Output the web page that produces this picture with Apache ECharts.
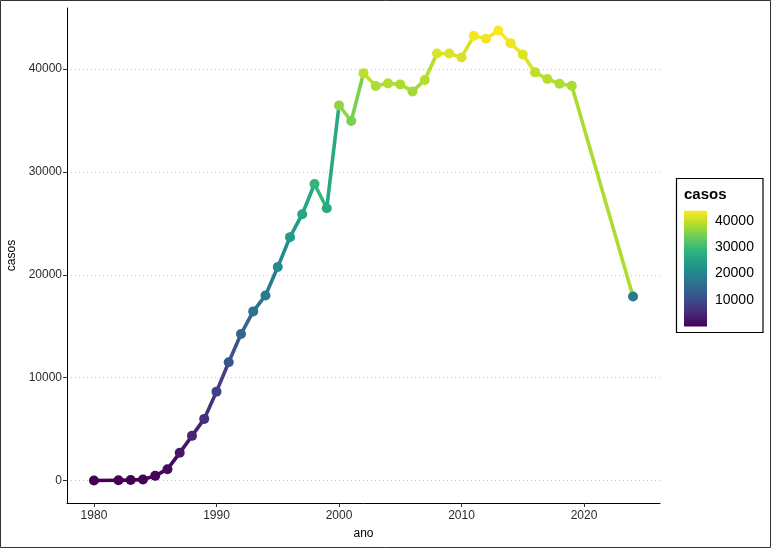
<!DOCTYPE html>
<html>
<head>
<meta charset="utf-8">
<script src="https://cdn.jsdelivr.net/npm/echarts@6/dist/echarts.min.js"></script>
<style>
html,body{margin:0;padding:0;background:#fff;}
#chart{width:771px;height:548px;}
</style>
</head>
<body>
<div id="chart"></div>
<script>
// ---- data ----
var anos = [1980, 1982, 1983, 1984, 1985, 1986, 1987, 1988, 1989, 1990,
            1991, 1992, 1993, 1994, 1995, 1996, 1997, 1998, 1999, 2000,
            2001, 2002, 2003, 2004, 2005, 2006, 2007, 2008, 2009, 2010,
            2011, 2012, 2013, 2014, 2015, 2016, 2017, 2018, 2019, 2024];
var casos = [0, 30, 40, 100, 450, 1100, 2690, 4340, 5990, 8640,
             11500, 14240, 16440, 17990, 20750, 23660, 25890, 28830, 26470, 36470,
             34950, 39600, 38350, 38610, 38510, 37830, 38930, 41520, 41520, 41130,
             43230, 42940, 43750, 42520, 41420, 39680, 39030, 38570, 38380, 17890];
var xTicks = [1980, 1990, 2000, 2010, 2020];
var yTicks = [0, 10000, 20000, 30000, 40000];
var legendTicks = [10000, 20000, 30000, 40000];
var viridis = ['#440154', '#482878', '#3E4A89', '#31688E', '#26828E',
               '#1F9E89', '#35B779', '#6DCD59', '#B4DE2C', '#FDE725'];

// ---- derived ----
var minV = Math.min.apply(null, casos);
var maxV = Math.max.apply(null, casos);
var xSpan = anos[anos.length - 1] - anos[0];
var ySpan = maxV - minV;
var points = anos.map(function (a, i) { return [a, casos[i]]; });
var segments = [];
for (var i = 0; i < anos.length - 1; i++) {
  segments.push([anos[i], casos[i], anos[i + 1], casos[i + 1]]);
}
var gradStops = viridis.map(function (c, i) { return { offset: i / (viridis.length - 1), color: c }; });
function plain(v) { return String(Math.round(v)); }

var FONT = 'Liberation Sans';
var chart = echarts.init(document.getElementById('chart'), null, { renderer: 'canvas' });
chart.setOption({
  animation: false,
  backgroundColor: '#fff',
  grid: [
    { left: 67, right: 111, top: 8, bottom: 45, containLabel: false, outerBoundsMode: 'none' },
    { left: 684, width: 23, top: 210.8, height: 115.6, containLabel: false, outerBoundsMode: 'none' }
  ],
  xAxis: [{
    gridIndex: 0,
    type: 'value',
    min: anos[0] - 0.05 * xSpan,
    max: anos[anos.length - 1] + 0.05 * xSpan,
    name: 'ano',
    nameLocation: 'middle',
    nameGap: 25,
    nameTextStyle: { fontFamily: FONT, fontSize: 12, color: '#000' },
    axisLine: { show: true, onZero: false, lineStyle: { color: '#000', width: 1 } },
    axisTick: { show: true, length: 4, lineStyle: { color: '#333' }, customValues: xTicks },
    axisLabel: { fontFamily: FONT, fontSize: 12, color: '#2b2b2b', margin: 7, customValues: xTicks, formatter: plain },
    splitLine: { show: false }
  }, {
    gridIndex: 1, type: 'category', data: [''], show: false
  }],
  yAxis: [{
    gridIndex: 0,
    type: 'value',
    min: minV - 0.05 * ySpan,
    max: maxV + 0.05 * ySpan,
    name: 'casos',
    nameLocation: 'middle',
    nameGap: 45,
    nameRotate: 90,
    nameTextStyle: { fontFamily: FONT, fontSize: 12, color: '#000' },
    axisLine: { show: true, onZero: false, lineStyle: { color: '#000', width: 1 } },
    axisTick: { show: true, length: 4, lineStyle: { color: '#333' }, customValues: yTicks },
    axisLabel: { fontFamily: FONT, fontSize: 12, color: '#2b2b2b', margin: 5, customValues: yTicks, formatter: plain },
    splitLine: { show: true, lineStyle: { color: '#c4c4c4', type: [1, 3], width: 1 } }
  }, {
    gridIndex: 1,
    type: 'value',
    min: minV, max: maxV,
    position: 'right',
    axisLine: { show: false },
    axisTick: { show: true, inside: true, length: 4, lineStyle: { color: 'rgba(255,255,255,0.8)' }, customValues: legendTicks },
    axisLabel: { fontFamily: FONT, fontSize: 14, color: '#000', margin: 8, customValues: legendTicks, formatter: plain },
    splitLine: { show: false }
  }, {
    gridIndex: 1,
    type: 'value',
    min: minV, max: maxV,
    position: 'left',
    axisLine: { show: false },
    axisTick: { show: true, inside: true, length: 4, lineStyle: { color: 'rgba(255,255,255,0.8)' }, customValues: legendTicks },
    axisLabel: { show: false },
    splitLine: { show: false }
  }],
  visualMap: [{
    type: 'continuous',
    show: false,
    min: minV,
    max: maxV,
    dimension: 1,
    seriesIndex: [0, 1],
    inRange: { color: viridis }
  }],
  series: [{
    type: 'custom',
    xAxisIndex: 0, yAxisIndex: 0,
    data: segments,
    encode: { x: [0, 2], y: [1, 3] },
    z: 2,
    renderItem: function (params, api) {
      var p0 = api.coord([api.value(0), api.value(1)]);
      var p1 = api.coord([api.value(2), api.value(3)]);
      return {
        type: 'line',
        shape: { x1: p0[0], y1: p0[1], x2: p1[0], y2: p1[1] },
        style: { stroke: api.visual('color'), lineWidth: 3.6, lineCap: 'round' }
      };
    }
  }, {
    type: 'scatter',
    xAxisIndex: 0, yAxisIndex: 0,
    data: points,
    symbol: 'circle',
    symbolSize: 10,
    itemStyle: { opacity: 1 },
    z: 3
  }, {
    type: 'bar',
    xAxisIndex: 1, yAxisIndex: 1,
    data: [maxV],
    barWidth: 23,
    z: 1,
    itemStyle: { color: new echarts.graphic.LinearGradient(0, 1, 0, 0, gradStops) },
    silent: true
  }],
  graphic: [{
    type: 'rect',
    shape: { x: 0.5, y: 0.5, width: 770, height: 547 },
    style: { fill: 'none', stroke: '#333', lineWidth: 1 },
    silent: true
  }, {
    type: 'rect',
    shape: { x: 676.5, y: 178.5, width: 86.5, height: 154 },
    style: { fill: 'none', stroke: '#000', lineWidth: 1.2 },
    silent: true
  }, {
    type: 'text',
    left: 684, top: 187,
    style: { text: 'casos', fontFamily: FONT, fontSize: 15, fontWeight: 'bold', fill: '#000' },
    silent: true
  }]
});
</script>
</body>
</html>
